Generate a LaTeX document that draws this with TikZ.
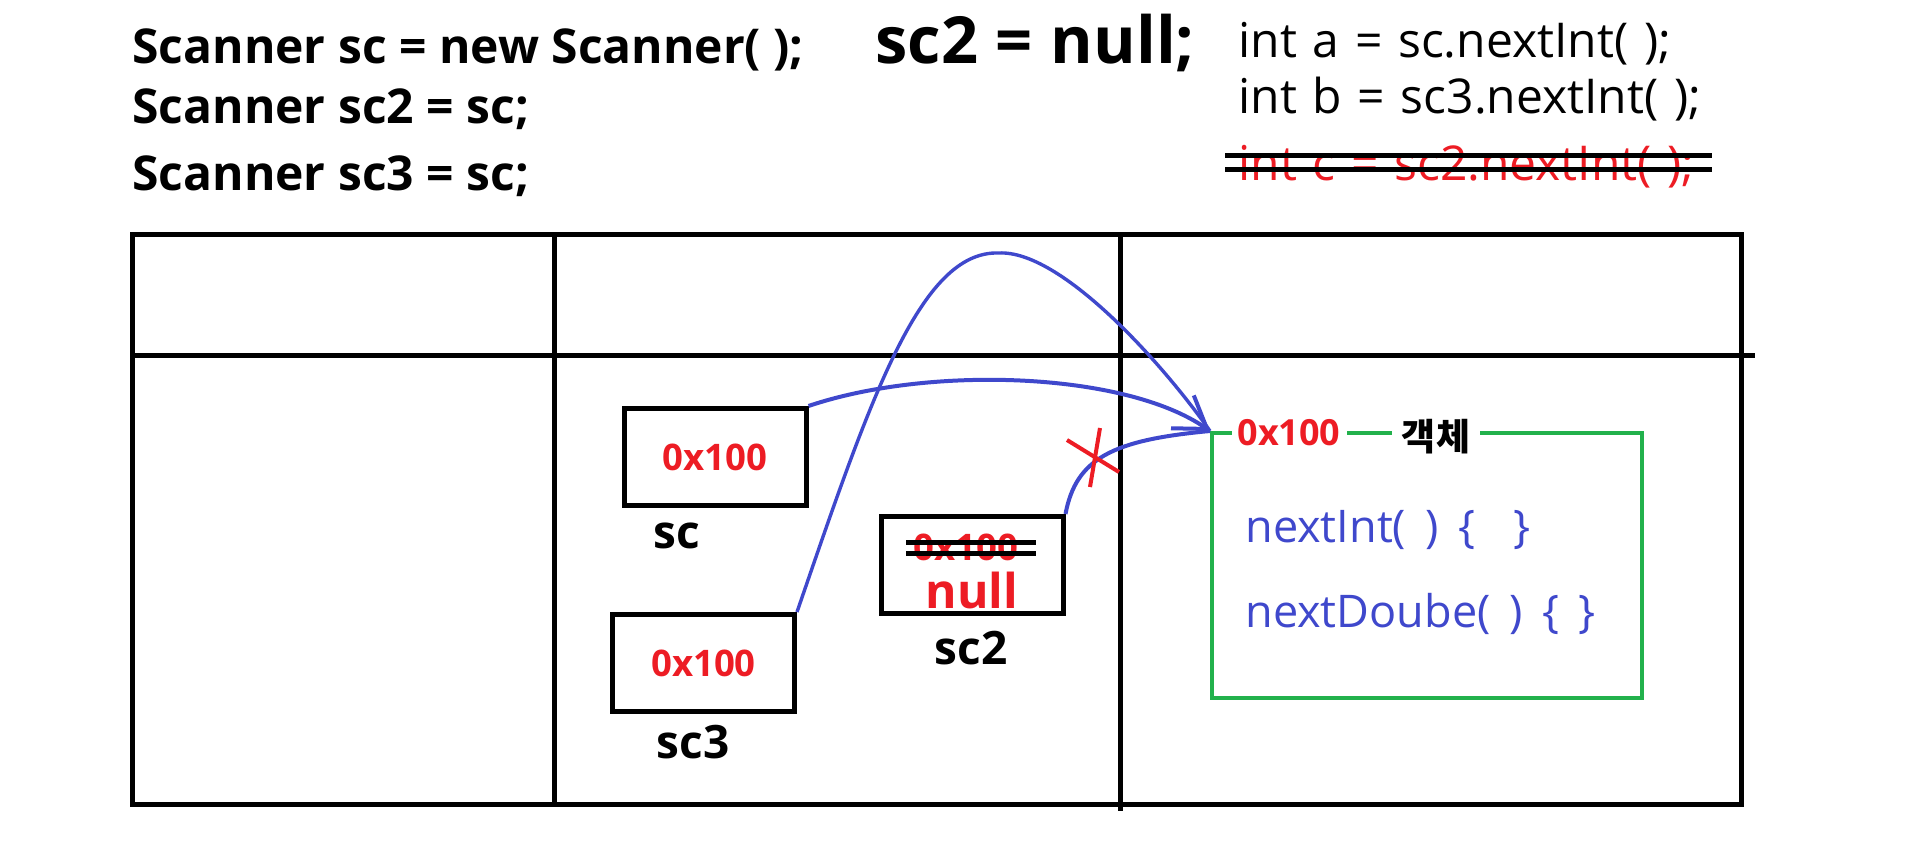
\documentclass[tikz,border=0pt]{standalone}
\usepackage{fontspec}
\setmainfont{Open Sans}
\newfontfamily\kr{Noto Sans CJK KR}
\usetikzlibrary{arrows.meta}
\definecolor{pred}{HTML}{ED1C24}
\definecolor{pblue}{HTML}{3F48CC}
\definecolor{pgreen}{HTML}{22B14C}
\newcommand\widespace[1]{\spaceskip=#1\fontdimen2\font\relax}
\begin{document}
\begin{tikzpicture}[x=0.5pt,y=-0.5pt,
  tline/.style={line width=2.5pt},
  codeb/.style={anchor=base west, inner sep=0, font=\fontsize{24}{28}\selectfont\bfseries},
  codebig/.style={anchor=base west, inner sep=0, font=\fontsize{32.5}{36}\selectfont\bfseries\widespace{1.05}},
  coder/.style={anchor=base west, inner sep=0, font=\fontsize{24}{27}\selectfont\widespace{1.26}},
  varbox/.style={draw, line width=2.5pt, minimum width=91pt, minimum height=48.5pt, inner sep=0,
     font=\fontsize{18.3}{20}\selectfont\bfseries, text=pred},
  varlbl/.style={inner sep=0, font=\fontsize{23}{26}\selectfont\bfseries},
  link/.style={draw=pblue, line width=2pt},
  tip/.style={-{Straight Barb[length=15pt,width=20pt,line width=2pt]}},
  meth/.style={anchor=base west, inner sep=0, text=pblue, font=\fontsize{22.5}{25}\selectfont\widespace{1.65}},
  cross/.style={draw=pred, line width=2pt}
]
\useasboundingbox (0,0) rectangle (1917,857);
\fill[white] (0,0) rectangle (1917,857);

% code at the top
\node[codeb] (l1) at (132,63) {Scanner sc = new Scanner( );};
\node[codeb] (l2) at (132,123) {Scanner sc2 = sc;};
\node[codeb] (l3) at (132,190) {Scanner sc3 = sc;};
\node[codebig] (l4) at (875,63) {sc2 = null;};
\node[coder] (r1) at (1238,57) {int a = sc.nextInt( );};
\node[coder] (r2) at (1238,113) {int b = sc3.nextInt( );};
\node[coder, text=pred] (r3) at (1238,180) {int c = sc2.nextInt( );};
\draw[tline] (1225,155) -- (1712,155);
\draw[tline] (1225,169) -- (1712,169);

% table
\draw[tline] (132,234) rectangle (1741,804);
\draw[tline] (132,355) -- (1755,355);
\draw[tline] (554,234) -- (554,804);
\draw[tline] (1120,234) -- (1120,811);

% variables
\node[varbox] (sc) at (715,457) {0x100};
\node[varlbl] (sclbl) at (677,536) {sc};
\node[varbox] (sc3) at (703.5,663) {0x100};
\node[varlbl] (sc3lbl) at (693,742) {sc3};
\node[varbox] (sc2) at (972,565) {};
\node[inner sep=0, text=pred, font=\fontsize{18.3}{20}\selectfont\bfseries] (old) at (966,547) {0x100};
\draw[tline] (old.west) ++(-7,-5) -- ++(130,0);
\draw[tline] (old.west) ++(-7,6) -- ++(130,0);
\node[inner sep=0, text=pred, font=\fontsize{24}{26}\selectfont\bfseries] (null) at (972,590) {null};
\node[varlbl] (sc2lbl) at (971,648) {sc2};

% object
\node[draw=pgreen, line width=2pt, minimum width=215pt, minimum height=132.5pt, inner sep=0] (obj) at (1427,565.5) {};
\node[fill=white, inner xsep=3pt, inner ysep=0, text=pred, font=\fontsize{18}{20}\selectfont\bfseries] (addr) at (1289,433) {0x100};
\node[fill=white, inner xsep=5pt, inner ysep=0, font=\kr\fontsize{18.5}{20}\selectfont\bfseries] (kind) at (1436,437) {객체};
\node[meth] (m1) at (1245,542) {nextInt( ) \{\ \ \}};
\node[meth] (m2) at (1245,627) {nextDoube( ) \{ \}};

% links
\coordinate (peak) at (999,253);
\draw[link, line width=1.7pt] (sc3.north east) .. controls (870,400) and (920,250) .. (peak)
   .. controls (1060,250) and (1160,360) .. (obj.north west);
\draw[link] (sc2.north east) .. controls (1076,458) and (1113,440) .. (obj.north west);
\draw[link, tip] (sc.north east) .. controls (930,365) and (1125,372) .. (obj.north west);

% red cross
\draw[cross] (1100,428) -- (1090,487);
\draw[cross] (1067,440) -- (1119,472);
\end{tikzpicture}
\end{document}
